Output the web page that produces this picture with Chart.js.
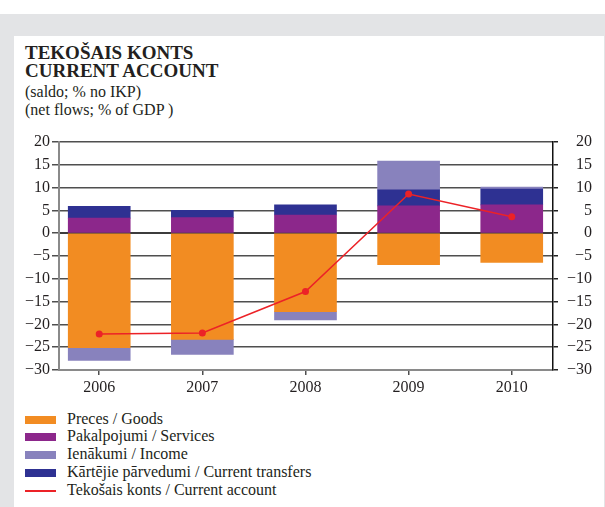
<!DOCTYPE html>
<html lang="lv">
<head>
<meta charset="UTF-8">
<title>Tekošais konts / Current account</title>
<style>
    body {
        margin: 0;
        width: 605px;
        height: 507px;
        background: #fff;
        font-family: 'Liberation Serif', 'Times New Roman', serif;
        color: #231f20;
        position: relative;
        overflow: hidden;
    }
    .frame { position: absolute; background: #e3e4e6; }
    #title {
        position: absolute; left: 25px; top: 43.6px;
        font-size: 19px; line-height: 18px; font-weight: bold;
    }
    #subtitle {
        position: absolute; left: 25px; top: 82.6px;
        font-size: 16px; line-height: 18px;
    }
    #chart { position: absolute; left: 0; top: 120px; }
    #legend {
        position: absolute; left: 25px; top: 409.6px;
        font-size: 16px; line-height: 17.9px;
    }
    .item { position: relative; height: 17.9px; padding-left: 42px; white-space: nowrap; }
    .box { position: absolute; left: 0; top: 6px; width: 31px; height: 8px; }
    .line { position: absolute; left: 0; top: 9px; width: 31px; height: 2px; }
</style>
</head>
<body>
<div class="frame" style="left:0;top:14px;width:605px;height:22px"></div>
<div class="frame" style="left:0;top:14px;width:14px;height:493px"></div>
<div class="frame" style="left:604px;top:14px;width:1px;height:493px"></div>

<div id="title">TEKOŠAIS KONTS<br>CURRENT ACCOUNT</div>
<div id="subtitle">(saldo; % no IKP)<br>(net flows; % of GDP )</div>

<canvas id="chart" width="605" height="290"></canvas>
<div id="legend"></div>

<script src="https://cdn.jsdelivr.net/npm/chart.js"></script>
<script>
    // dati
    const years = [2006, 2007, 2008, 2009, 2010];
    const goods = [-25.1, -23.3, -17.2, -6.9, -6.4];
    const services = [3.3, 3.4, 4.0, 6.0, 6.2];
    const income = [-2.8, -3.3, -1.8, 6.3, 0.4];
    const transfers = [2.6, 1.6, 2.2, 3.5, 3.5];
    const currentAccount = [-22.1, -21.9, -12.8, 8.6, 3.6];

    const labels = {
        goods: 'Preces / Goods',
        services: 'Pakalpojumi / Services',
        income: 'Ienākumi / Income',
        transfers: 'Kārtējie pārvedumi / Current transfers',
        ca: 'Tekošais konts / Current account'
    };
    const colors = {
        goods: '#f28c22',
        services: '#8c278b',
        income: '#8882bd',
        transfers: '#2e3192',
        ca: '#ec2227'
    };

    const yMin = -30, yMax = 20, yStep = 5;
    const gridColor = '#4f4f4f';

    function pts(arr) {
        return years.map((y, i) => ({ x: y, y: arr[i] }));
    }
    function fmt(v) {
        return v < 0 ? '\u2212' + Math.abs(v) : String(v);
    }

    function bar(key, arr) {
        return {
            type: 'bar',
            label: labels[key],
            data: pts(arr),
            backgroundColor: colors[key],
            borderWidth: 0,
            barThickness: 62,
            stack: 'bars',
            yAxisID: 'y'
        };
    }

    Chart.defaults.font.family = "'Liberation Serif', 'Times New Roman', serif";
    Chart.defaults.font.size = 16;
    Chart.defaults.color = '#231f20';

    new Chart(document.getElementById('chart'), {
        data: {
            datasets: [
                {
                    type: 'line',
                    label: labels.ca,
                    data: pts(currentAccount),
                    borderColor: colors.ca,
                    backgroundColor: colors.ca,
                    borderWidth: 1.5,
                    pointRadius: 3.5,
                    pointBackgroundColor: colors.ca,
                    pointBorderWidth: 0,
                    tension: 0,
                    stack: 'line',
                    yAxisID: 'y'
                },
                // kārtība kaudzē: preces, pakalpojumi, pārvedumi, ienākumi
                bar('goods', goods),
                bar('services', services),
                bar('transfers', transfers),
                bar('income', income)
            ]
        },
        options: {
            responsive: false,
            animation: false,
            layout: { padding: { top: 22, right: 13, left: 0, bottom: 0 } },
            plugins: { legend: { display: false }, tooltip: { enabled: false } },
            scales: {
                x: {
                    type: 'linear',
                    offset: false,
                    min: 2005.61,
                    max: 2010.4,
                    afterBuildTicks: (axis) => { axis.ticks = years.map(v => ({ value: v })); },
                    afterFit: (axis) => { axis.height = 40; },
                    ticks: { callback: (v) => String(v), padding: 3, maxRotation: 0 },
                    grid: { offset: false, drawOnChartArea: false, tickLength: 5, color: gridColor, lineWidth: 1.5 },
                    border: { color: '#8a8a8a', width: 2 }
                },
                y: {
                    position: 'left',
                    stacked: true,
                    min: yMin, max: yMax,
                    afterFit: (axis) => { axis.width = 59; },
                    ticks: { stepSize: yStep, callback: fmt, padding: 2 },
                    grid: { color: gridColor, lineWidth: 1.5, tickLength: 7 },
                    border: { color: '#8a8a8a', width: 2 }
                },
                zero: {
                    position: 'left',
                    min: yMin, max: yMax,
                    z: 1,
                    afterFit: (axis) => { axis.width = 0; },
                    ticks: { stepSize: yStep, display: false },
                    grid: {
                        drawTicks: false,
                        lineWidth: 2,
                        color: (ctx) => ctx.tick && ctx.tick.value === 0 ? '#3c3c3c' : 'rgba(0,0,0,0)'
                    },
                    border: { display: false }
                },
                y2: {
                    position: 'right',
                    min: yMin, max: yMax,
                    afterFit: (axis) => { axis.width = 39; },
                    ticks: { stepSize: yStep, callback: fmt, crossAlign: 'far' },
                    grid: { drawOnChartArea: false, tickLength: 5, color: '#222', lineWidth: 1.5 },
                    border: { color: '#111', width: 1.5 }
                }
            }
        }
    });

    // leģenda
    const legendOrder = ['goods', 'services', 'income', 'transfers', 'ca'];
    document.getElementById('legend').innerHTML = legendOrder.map(k => {
        const cls = k === 'ca' ? 'line' : 'box';
        return `<div class="item"><span class="${cls}" style="background:${colors[k]}"></span>${labels[k]}</div>`;
    }).join('');
</script>
</body>
</html>
